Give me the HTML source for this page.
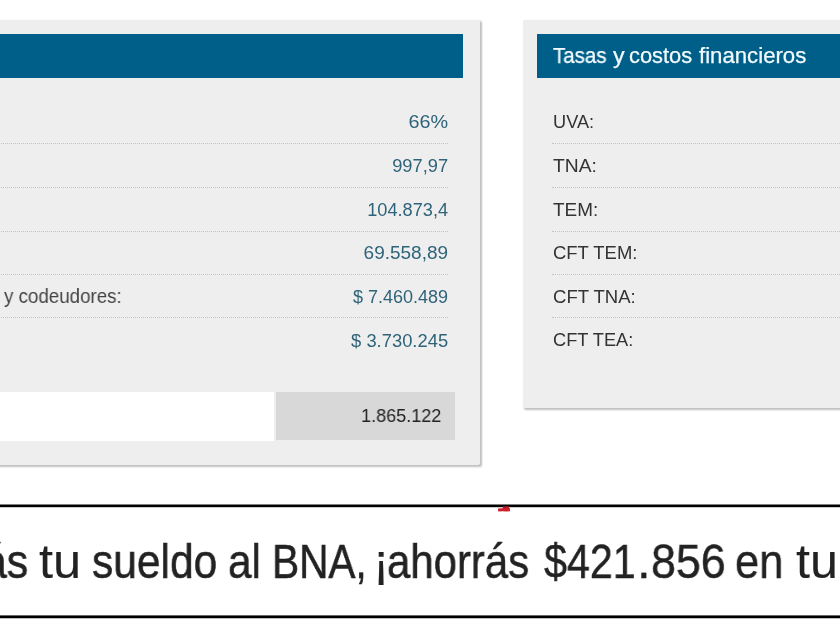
<!DOCTYPE html>
<html>
<head>
<meta charset="utf-8">
<style>
  html, body { margin: 0; padding: 0; }
  body {
    width: 840px; height: 630px; overflow: hidden; position: relative;
    background: #ffffff;
    font-family: "Liberation Sans", sans-serif;
    color: #333333;
  }
  .abs { position: absolute; }
  .panel {
    position: absolute; background: #eeeeee;
    box-shadow: 1.5px 1.5px 2px rgba(0,0,0,0.25); border-radius: 2px;
  }
  .hdr { position: absolute; background: #005f88; }
  .hdr span {
    will-change: transform; position: absolute; top: 0; line-height: 44px;
    color: #f2fbff; font-size: 21.5px; white-space: pre;
    transform-origin: left center;
    -webkit-text-stroke: 0.25px #f2fbff;
  }
  .dot { position: absolute; height: 0; border-top: 1px dotted #c4c4c4; }
  .lbl {
    will-change: transform; position: absolute; font-size: 18px; line-height: 20px; white-space: nowrap;
    color: #333333;
  }
  .val {
    will-change: transform; position: absolute; font-size: 18px; line-height: 20px; white-space: nowrap;
    color: #2e6379; text-align: right; right: 392px;
    transform-origin: right center;
  }
  .banner-line { position: absolute; left: 0; width: 840px; height: 4px; }
  .bw {
    will-change: transform; position: absolute; top: 531px; white-space: pre; color: #222222;
    font-size: 49px; line-height: 60px;
    transform-origin: left center; -webkit-text-stroke: 0.5px #222222;
  }
</style>
</head>
<body>

<!-- left panel -->
<div class="panel" style="left:-20px; top:20px; width:500px; height:445px;"></div>
<div class="hdr" style="left:-20px; top:33.6px; width:483.3px; height:44.6px;"></div>

<div class="dot" style="left:-20px; width:468px; top:143px;"></div>
<div class="dot" style="left:-20px; width:468px; top:187px;"></div>
<div class="dot" style="left:-20px; width:468px; top:230.5px;"></div>
<div class="dot" style="left:-20px; width:468px; top:274px;"></div>
<div class="dot" style="left:-20px; width:468px; top:317px;"></div>

<div class="val" style="top:112px; transform:scaleX(1.10);">66%</div>
<div class="val" style="top:156px; transform:scaleX(1.015);">997,97</div>
<div class="val" style="top:200px; transform:scaleX(1.01);">104.873,4</div>
<div class="val" style="top:243.3px; transform:scaleX(1.055);">69.558,89</div>
<div class="val" style="top:287.2px;">$ 7.460.489</div>
<div class="val" style="top:330.6px; transform:scaleX(1.02);">$ 3.730.245</div>

<div class="lbl" style="left:3.6px; top:284.6px; font-size:20px; line-height:22px; color:#444444; transform-origin:left center; transform:scaleX(0.937);">y codeudores:</div>

<div class="abs" style="left:-20px; top:392px; width:294px; height:48.6px; background:#ffffff;"></div>
<div class="abs" style="left:276px; top:392px; width:179.3px; height:48px; background:#d8d8d8;"></div>
<div class="lbl" style="right:398.6px; top:406.3px; font-size:18.5px; color:#222222; transform-origin:right center; transform:scaleX(0.975);">1.865.122</div>

<!-- right panel -->
<div class="panel" style="left:523.2px; top:20px; width:340px; height:387.6px;"></div>
<div class="hdr" style="left:537px; top:33.6px; width:320px; height:44.6px;"><span style="left:16.3px; transform:scaleX(0.9518);">Tasas</span><span style="left:76.0px; transform:scaleX(1.0818);">y</span><span style="left:92.48px; transform:scaleX(1.0164);">costos</span><span style="left:162.0px; transform:scaleX(1.032);">financieros</span></div>

<div class="dot" style="left:552px; width:300px; top:143px;"></div>
<div class="dot" style="left:552px; width:300px; top:187px;"></div>
<div class="dot" style="left:552px; width:300px; top:230.5px;"></div>
<div class="dot" style="left:552px; width:300px; top:274px;"></div>
<div class="dot" style="left:552px; width:300px; top:317px;"></div>

<div class="lbl" style="left:552.5px; top:112.4px; transform-origin:left center; transform:scaleX(1.01);">UVA:</div>
<div class="lbl" style="left:553px; top:156px; transform-origin:left center; transform:scaleX(1.07);">TNA:</div>
<div class="lbl" style="left:553px; top:199.6px; transform-origin:left center; transform:scaleX(1.05);">TEM:</div>
<div class="lbl" style="left:553px; top:243px; transform-origin:left center; transform:scaleX(1.025);">CFT TEM:</div>
<div class="lbl" style="left:553px; top:286.6px; transform-origin:left center; transform:scaleX(1.03);">CFT TNA:</div>
<div class="lbl" style="left:553px; top:330.4px; transform-origin:left center; transform:scaleX(1.012);">CFT TEA:</div>

<!-- banner -->
<div class="banner-line" style="top:504px; background:linear-gradient(to bottom, rgba(0,0,0,0.5) 0, rgba(0,0,0,0.5) 1px, #000 1px, #000 3px, rgba(0,0,0,0.2) 3px, rgba(0,0,0,0.2) 4px);"></div>
<div class="banner-line" style="top:615px; background:linear-gradient(to bottom, rgba(0,0,0,0.6) 0, rgba(0,0,0,0.6) 1px, #000 1px, #000 3px, rgba(0,0,0,0.25) 3px, rgba(0,0,0,0.25) 4px);"></div>
<svg class="abs" style="left:494px; top:502.7px;" width="20" height="12" viewBox="0 0 20 12"><path d="M4 5.6 L8.5 5.2 L9.5 3.8 L14.5 3.6 L15.2 5 L16 5.4 L16 8.2 L12 8.6 L9 8.2 L4.2 8.6 Z" fill="#cf1f2c"/><path d="M9 3.6 L15 3.4 L15 4.6 L9 4.8 Z" fill="#a01522"/></svg>
<div class="bw" style="left:-17.25px; transform:scaleX(0.873); -webkit-text-stroke-width:0.5px;">ás</div>
<div class="bw" style="left:38.67px; transform:scaleX(1.0324); -webkit-text-stroke-width:0.1px;">tu</div>
<div class="bw" style="left:91.53px; transform:scaleX(0.8669); -webkit-text-stroke-width:0.5px;">sueldo</div>
<div class="bw" style="left:227.77px; transform:scaleX(0.8636); -webkit-text-stroke-width:0.5px;">al</div>
<div class="bw" style="left:271.89px; transform:scaleX(0.8283); -webkit-text-stroke-width:0.55px;">BNA,</div>
<div class="bw" style="left:372.5px; transform:scaleX(1.0); -webkit-text-stroke-width:0.2px;">¡</div>
<div class="bw" style="left:387.49px; transform:scaleX(0.8552); -webkit-text-stroke-width:0.5px;">ahorrás</div>
<div class="bw" style="left:543.75px; transform:scaleX(0.8411); -webkit-text-stroke-width:0.45px;">$421</div>
<div class="bw" style="left:637.0px; transform:scaleX(1.0); -webkit-text-stroke-width:0.3px;">.</div>
<div class="bw" style="left:650.67px; transform:scaleX(0.9135); -webkit-text-stroke-width:0.45px;">856</div>
<div class="bw" style="left:735.22px; transform:scaleX(0.888); -webkit-text-stroke-width:0.4px;">en</div>
<div class="bw" style="left:795.97px; transform:scaleX(1.027); -webkit-text-stroke-width:0.1px;">tu</div>

</body>
</html>
